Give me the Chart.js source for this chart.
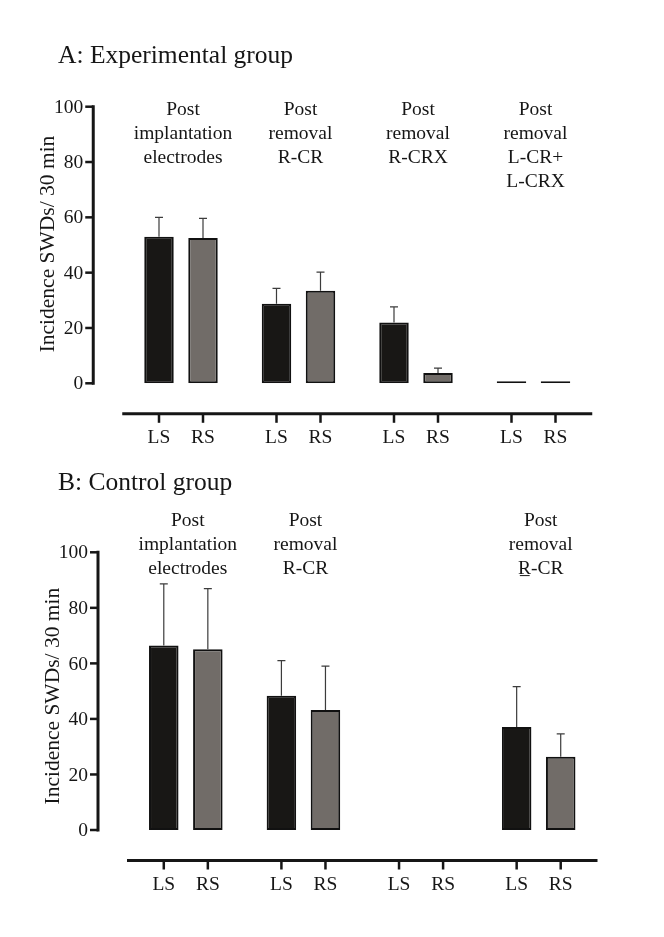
<!DOCTYPE html>
<html>
<head>
<meta charset="utf-8">
<script src="https://cdn.jsdelivr.net/npm/chart.js@4.4.0/dist/chart.umd.min.js"></script>
<style>
  html, body { margin: 0; padding: 0; background: #fff; }
  #wrap { position: relative; width: 664px; height: 937px; }
  canvas { position: absolute; left: 0; }
  #chartA { top: 0; }
  #chartB { top: 468px; }
</style>
</head>
<body>
<div id="wrap">
  <canvas id="chartA" width="664" height="468"></canvas>
  <canvas id="chartB" width="664" height="469"></canvas>
</div>
<script>
// ---- data ----
const sides = ["LS", "RS"];
const yTicks = [0, 20, 40, 60, 80, 100];

const groupsA = [
  ["Post", "implantation", "electrodes"],
  ["Post", "removal", "R-CR"],
  ["Post", "removal", "R-CRX"],
  ["Post", "removal", "L-CR+", "L-CRX"]
];
const lsA = [53.0, 28.8, 22.0, 0];
const lsSemA = [7.0, 5.5, 5.6, 0];
const rsA = [52.5, 33.5, 3.7, 0];
const rsSemA = [7.1, 6.7, 1.8, 0];

const groupsB = [
  ["Post", "implantation", "electrodes"],
  ["Post", "removal", "R-CR"],
  [],
  ["Post", "removal", "R\u0332-CR"]
];
const lsB = [66.4, 48.3, null, 37.1];
const lsSemB = [22.2, 12.7, null, 14.5];
const rsB = [65.1, 43.2, null, 26.4];
const rsSemB = [21.8, 15.8, null, 8.2];

const serif = "'Liberation Serif', 'Times New Roman', serif";
const ink = "#161616";

function panelPlugin(cfg) {
  return {
    id: "panel",
    afterDatasetsDraw(chart) {
      const ctx = chart.ctx;
      const y = chart.scales.y;
      const x = chart.scales.x;
      const area = chart.chartArea;
      ctx.save();

      // error bars (upper only)
      ctx.strokeStyle = "#3c3c3c";
      ctx.lineWidth = 1.2;
      cfg.sems.forEach((sem, di) => {
        const meta = chart.getDatasetMeta(di);
        const vals = chart.data.datasets[di].data;
        sem.forEach((s, i) => {
          if (!s || vals[i] == null) return;
          const bar = meta.data[i];
          const top = y.getPixelForValue(vals[i] + s);
          ctx.beginPath();
          ctx.moveTo(bar.x, bar.y);
          ctx.lineTo(bar.x, top);
          ctx.moveTo(bar.x - 4, top);
          ctx.lineTo(bar.x + 4, top);
          ctx.stroke();
        });
      });

      // y axis, offset to the left
      const ax = area.left - 29;
      const y0 = y.getPixelForValue(0);
      const y100 = y.getPixelForValue(100);
      ctx.strokeStyle = ink;
      ctx.lineWidth = 3;
      ctx.beginPath();
      ctx.moveTo(ax, y0 + 1.5);
      ctx.lineTo(ax, y100 - 1.5);
      ctx.stroke();
      ctx.lineWidth = 2.5;
      ctx.fillStyle = ink;
      ctx.font = "19.5px " + serif;
      ctx.textAlign = "right";
      ctx.textBaseline = "middle";
      y.ticks.forEach(t => {
        const py = y.getPixelForValue(t.value);
        ctx.beginPath();
        ctx.moveTo(ax - 8, py);
        ctx.lineTo(ax, py);
        ctx.stroke();
        ctx.fillText(String(t.value), ax - 10, py + 1);
      });

      // y axis title
      ctx.save();
      ctx.font = "21.5px " + serif;
      ctx.translate(ax - 45, (y0 + y100) / 2 + cfg.yTitleShift);
      ctx.rotate(-Math.PI / 2);
      ctx.textAlign = "center";
      ctx.fillText("Incidence SWDs/ 30 min", 0, 0);
      ctx.restore();

      // x axis, offset below
      const xl = area.bottom + 30.5;
      ctx.lineWidth = 3;
      ctx.beginPath();
      ctx.moveTo(area.left, xl);
      ctx.lineTo(area.right, xl);
      ctx.stroke();
      ctx.lineWidth = 2.5;
      ctx.textAlign = "center";
      chart.data.datasets.forEach((ds, di) => {
        const meta = chart.getDatasetMeta(di);
        meta.data.forEach(bar => {
          ctx.beginPath();
          ctx.moveTo(bar.x, xl);
          ctx.lineTo(bar.x, xl + 9);
          ctx.stroke();
          ctx.fillText(ds.label, bar.x, xl + 24);
        });
      });

      // group headings
      chart.data.labels.forEach((lines, i) => {
        const cx = x.getPixelForValue(i) + 2;
        lines.forEach((ln, k) => {
          ctx.fillText(ln, cx, area.top + cfg.headOffset + k * 24);
        });
      });

      // panel title
      ctx.font = "25.5px " + serif;
      ctx.textAlign = "left";
      ctx.textBaseline = "alphabetic";
      ctx.fillText(cfg.title, 58, cfg.titleY);

      ctx.restore();
    }
  };
}

function makePanel(id, groups, ls, rs, lsSem, rsSem, cfg) {
  const ctx = document.getElementById(id).getContext("2d");
  return new Chart(ctx, {
    type: "bar",
    data: {
      labels: groups,
      datasets: [
        {
          label: sides[0],
          data: ls,
          backgroundColor: "#181715",
          borderColor: "#111",
          borderWidth: 2,
          borderSkipped: false
        },
        {
          label: sides[1],
          data: rs,
          backgroundColor: "#716c68",
          borderColor: "#111",
          borderWidth: 2,
          borderSkipped: false
        }
      ]
    },
    options: {
      responsive: false,
      animation: false,
      categoryPercentage: 0.749,
      barPercentage: 0.67,
      minBarLength: cfg.minBar,
      layout: { padding: cfg.padding },
      plugins: {
        legend: { display: false },
        tooltip: { enabled: false },
        title: { display: false }
      },
      scales: {
        x: { display: false },
        y: {
          display: false,
          min: 0,
          max: 100,
          afterBuildTicks: s => { s.ticks = yTicks.map(v => ({ value: v })); }
        }
      }
    },
    plugins: [panelPlugin(Object.assign({ sems: [lsSem, rsSem] }, cfg))]
  });
}

makePanel("chartA", groupsA, lsA, rsA, lsSemA, rsSemA, {
  title: "A: Experimental group",
  titleY: 63,
  headOffset: 3.5,
  yTitleShift: -1,
  minBar: 2,
  padding: { left: 122.25, right: 71.75, top: 106.7, bottom: 84.7 }
});

makePanel("chartB", groupsB, lsB, rsB, lsSemB, rsSemB, {
  title: "B: Control group",
  titleY: 22,
  headOffset: -31.5,
  yTitleShift: 5,
  minBar: 0,
  padding: { left: 127, right: 66.5, top: 84.3, bottom: 107 }
});
</script>
</body>
</html>
